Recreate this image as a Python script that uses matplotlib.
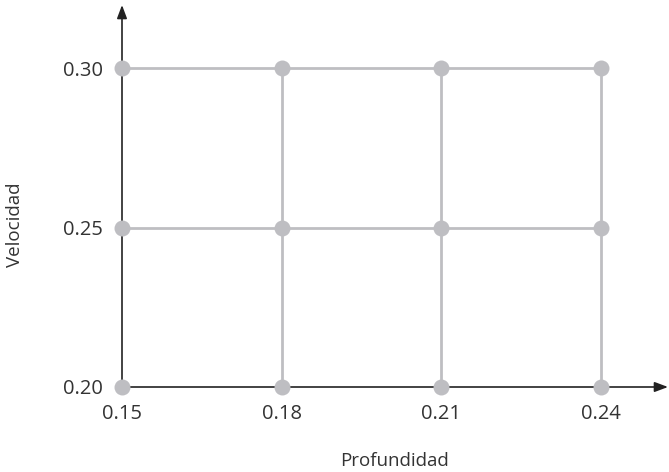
import matplotlib
matplotlib.use("Agg")
import matplotlib.pyplot as plt

plt.rcParams['font.family'] = ['Open Sans', 'DejaVu Sans']

profundidad = [0.15, 0.18, 0.21, 0.24]
velocidad = [0.20, 0.25, 0.30]
xtick_labels = ["0.15", "0.18", "0.21", "0.24"]
ytick_labels = ["0.20", "0.25", "0.30"]

grey = "#bebec2"
text_color = "#333333"

fig = plt.figure(figsize=(6.69, 4.72), dpi=100)
ax = fig.add_axes([122/669, 1-387/472, (668-122)/669, (387-5)/472])

x0, x1 = profundidad[0], profundidad[-1]
y0, y1 = velocidad[0], velocidad[-1]

# grid lines (excluding those lying on the axes)
for y in velocidad[1:]:
    ax.plot([x0, x1], [y, y], color=grey, lw=2.0, zorder=2, solid_capstyle='butt')
for x in profundidad[1:]:
    ax.plot([x, x], [y0, y1], color=grey, lw=2.0, zorder=2, solid_capstyle='butt')

# points
for y in velocidad:
    ax.plot(profundidad, [y]*len(profundidad), 'o', color=grey, ms=11.5,
            mec='none', zorder=4, ls='none', clip_on=False)

xmax = x1 + (668-601) / ((601-122)/(x1-x0))
ymax = y1 + (68-5) / ((387-68)/(y1-y0))
ax.set_xlim(x0, xmax)
ax.set_ylim(y0, ymax)

for s in ax.spines.values():
    s.set_visible(False)

# axes with arrows
ax.annotate("", xy=(xmax, y0), xytext=(x0, y0),
            arrowprops=dict(arrowstyle="-|>,head_length=0.8,head_width=0.3",
                            color="#222222", lw=1.2, shrinkA=0, shrinkB=0),
            annotation_clip=False, zorder=3)
ax.annotate("", xy=(x0, ymax), xytext=(x0, y0),
            arrowprops=dict(arrowstyle="-|>,head_length=0.8,head_width=0.3",
                            color="#222222", lw=1.2, shrinkA=0, shrinkB=0),
            annotation_clip=False, zorder=3)

ax.set_xticks(profundidad)
ax.set_xticklabels(xtick_labels)
ax.set_yticks(velocidad)
ax.set_yticklabels(ytick_labels)
ax.tick_params(axis='both', length=0, labelsize=14.5, labelcolor=text_color)
ax.tick_params(axis='x', pad=12)
ax.tick_params(axis='y', pad=14)

ax.set_xlabel("Profundidad", fontsize=13.5, color=text_color)
ax.set_ylabel("Velocidad", fontsize=13.5, color=text_color)
ax.xaxis.set_label_coords(0.5, (387-461)/382, transform=ax.transAxes)
ax.yaxis.set_label_coords((15-122)/546, (387-225)/382, transform=ax.transAxes)
ax.xaxis.label.set_va('center')
ax.yaxis.label.set_va('center')

fig.savefig("out.png", dpi=100)
